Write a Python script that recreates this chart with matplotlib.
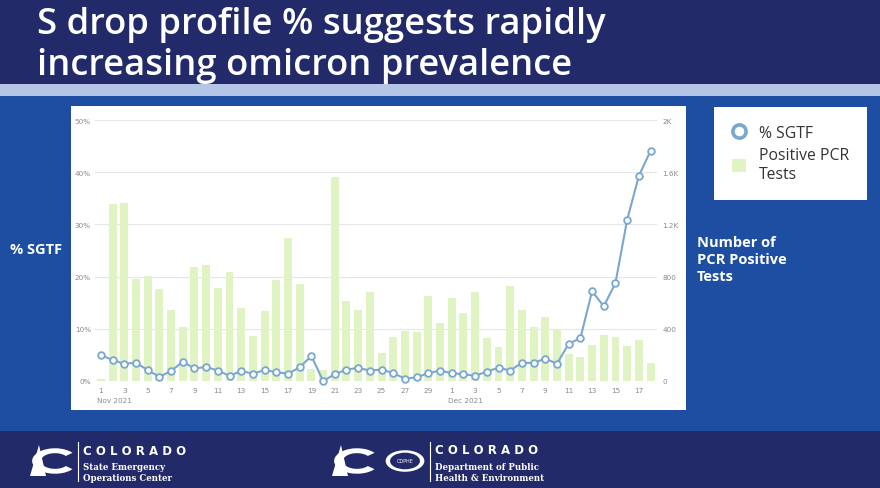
import matplotlib
matplotlib.use("Agg")
import matplotlib.pyplot as plt
from matplotlib.patches import Rectangle, Wedge, Circle, Polygon
from matplotlib.lines import Line2D

# ---------------- data ----------------
day_numbers = list(range(1, 31)) + list(range(1, 19))
month_labels = ["Nov 2021", "Dec 2021"]

positive_pcr_tests = [15, 1360, 1367, 779, 805, 708, 541, 416, 876, 889,
                      713, 835, 559, 347, 536, 774, 1096, 746, 95, 84,
                      1563, 613, 544, 685, 217, 340, 381, 375, 651, 442,
                      634, 519, 682, 327, 261, 728, 544, 416, 493, 391,
                      204, 186, 278, 350, 335, 266, 312, 140]

pct_sgtf = [5.0, 4.0, 3.3, 3.5, 2.1, 0.8, 1.9, 3.7, 2.4, 2.7,
            2.0, 1.0, 1.9, 1.4, 2.1, 1.7, 1.4, 2.6, 4.8, 0.0,
            1.3, 2.2, 2.5, 2.0, 2.2, 1.5, 0.45, 0.7, 1.5, 2.0,
            1.5, 1.3, 1.0, 1.8, 2.55, 2.0, 3.5, 3.45, 4.3, 3.3,
            7.15, 8.2, 17.2, 14.3, 18.8, 30.9, 39.3, 44.1]

pct_ticks = [0, 10, 20, 30, 40, 50]
pct_tick_labels = ["0%", "10%", "20%", "30%", "40%", "50%"]
count_ticks = [0, 400, 800, 1200, 1600, 2000]
count_tick_labels = ["0", "400", "800", "1.2K", "1.6K", "2K"]

title_lines = ["S drop profile % suggests rapidly", "increasing omicron prevalence"]

# ---------------- helpers ----------------
W, H = 880, 489
def fx(x): return x / W
def fy(y): return 1 - y / H

NAVY = "#222a69"
BAND = "#b4c5e6"
MID = "#1d4ea2"
BAR = "#e0f3c2"
LINE = "#7aa7d0"
GRID = "#e6e6e6"
TICK = "#8a8a8a"

fig = plt.figure(figsize=(8.8, 4.89), dpi=100)
fig.patch.set_facecolor(MID)

def rect(x0, y0, x1, y1, color, z=0):
    fig.patches.append(Rectangle((fx(x0), fy(y1)), fx(x1) - fx(x0), fy(y0) - fy(y1),
                                 transform=fig.transFigure, facecolor=color,
                                 edgecolor="none", zorder=z))

rect(0, 0, 880, 85, NAVY)
rect(0, 85, 880, 97, BAND)
rect(0, 97, 880, 432, MID)
rect(0, 432, 880, 489, NAVY)
rect(71, 107, 686, 411, "white", z=1)

# title
for i, t in enumerate(title_lines):
    fig.text(fx(37), fy(25 + 41 * i), t, color="white", fontsize=26.2,
             family="Open Sans", fontweight="semibold", va="center", ha="left")

# ---------------- chart ----------------
n = len(day_numbers)
xs = list(range(n))
ax = fig.add_axes([fx(95), fy(382), fx(657) - fx(95), fy(121) - fy(382)])
ax.set_zorder(2)
ax.patch.set_visible(False)
bars = ax.bar(xs, positive_pcr_tests, width=0.68, color=BAR, zorder=2)
ax.set_ylim(0, 2000)
ax.set_xlim(-0.5, n - 0.45)
for y in count_ticks:
    ax.axhline(y, color=GRID, lw=0.8, zorder=1)

ax2 = ax.twinx()
ax2.set_zorder(3)
ax2.patch.set_visible(False)
line, = ax2.plot(xs, pct_sgtf, color=LINE, lw=1.5, marker="o", ms=4.8,
                 mfc="white", mec=LINE, mew=1.3, zorder=4, clip_on=False)
ax2.set_ylim(0, 50)

# tick sides (set after twinx, which resets them)
ax.yaxis.tick_right()
ax.set_yticks(count_ticks)
ax.set_yticklabels(count_tick_labels)
ax2.yaxis.tick_left()
ax2.set_yticks(pct_ticks)
ax2.set_yticklabels(pct_tick_labels)

tick_pos = [i for i in xs if day_numbers[i] % 2 == 1]
ax.set_xticks(tick_pos)
ax.set_xticklabels([str(day_numbers[i]) for i in tick_pos])

for a in (ax, ax2):
    for s in a.spines.values():
        s.set_visible(False)
    a.tick_params(length=0, labelsize=5.2, colors=TICK, pad=3)
ax.tick_params(axis="x", pad=4)
ax.tick_params(axis="y", pad=4)
ax2.tick_params(axis="y", pad=3)

month_idx = [0, 30]
for mi, ml in zip(month_idx, month_labels):
    ax.annotate(ml, xy=(mi, 0), xycoords=("data", "axes fraction"),
                xytext=(-2.5, -11.5), textcoords="offset points",
                fontsize=5.2, color=TICK, ha="left", va="top")

# side labels
fig.text(fx(10), fy(250), "% SGTF", color="white", fontsize=10.5,
         family="Open Sans", fontweight="bold", va="center")
fig.text(fx(697), fy(260), "Number of\nPCR Positive\nTests", color="white",
         fontsize=10.5, family="Open Sans", fontweight="bold", va="center",
         linespacing=1.25)

# legend
h1 = Line2D([], [], ls="none", marker="o", ms=9.5, mfc="white", mec=LINE, mew=2.6)
h2 = Rectangle((0, 0), 1, 1, facecolor=BAR, edgecolor="none")
leg = fig.legend([h1, h2], ["% SGTF", "Positive PCR\nTests"],
                 loc="upper left", bbox_to_anchor=(fx(714), fy(108)),
                 bbox_transform=fig.transFigure, frameon=True, fancybox=False,
                 facecolor="white", edgecolor="none", framealpha=1,
                 prop={"family": "Open Sans", "size": 11.3},
                 handlelength=0.9, handleheight=0.9, handletextpad=0.8,
                 borderpad=1.15, labelspacing=0.4, borderaxespad=0)
leg.get_frame().set_linewidth(0)
for t in leg.get_texts():
    t.set_color("#333333")

# footer logos (simplified)
def logo(cx, cy):
    fig.patches.append(Wedge((fx(cx), fy(cy)), 0.026, 40, 320, width=0.010,
                             transform=fig.transFigure, facecolor="white",
                             edgecolor="none", zorder=2))
    fig.patches.append(Polygon([(fx(cx - 25), fy(cy + 15)), (fx(cx - 16), fy(cy - 16)),
                                (fx(cx - 9), fy(cy + 15))], closed=True,
                               transform=fig.transFigure, facecolor="white",
                               edgecolor="none", zorder=2))

def divider(x):
    fig.lines.append(Line2D([fx(x), fx(x)], [fy(443), fy(482)],
                            transform=fig.transFigure, color="white", lw=0.8))

logo(55, 462)
divider(78)
fig.text(fx(83), fy(452), "C O L O R A D O", color="white", fontsize=8.5,
         fontweight="bold", family="DejaVu Sans", va="center")
fig.text(fx(83), fy(468), "State Emergency", color="white", fontsize=6.2,
         family="DejaVu Serif", fontweight="bold", va="center")
fig.text(fx(83), fy(479), "Operations Center", color="white", fontsize=6.2,
         family="DejaVu Serif", fontweight="bold", va="center")

logo(357, 462)
fig.patches.append(Circle((fx(405), fy(462)), 0.022, transform=fig.transFigure,
                          facecolor="white", edgecolor="none", zorder=2))
fig.patches.append(Circle((fx(405), fy(462)), 0.017, transform=fig.transFigure,
                          facecolor=NAVY, edgecolor="none", zorder=3))
fig.text(fx(405), fy(462), "CDPHE", color="white", fontsize=3.5,
         ha="center", va="center", zorder=4)
divider(430)
fig.text(fx(435), fy(451), "C O L O R A D O", color="white", fontsize=8.5,
         fontweight="bold", family="DejaVu Sans", va="center")
fig.text(fx(435), fy(468), "Department of Public", color="white", fontsize=6.2,
         family="DejaVu Serif", fontweight="bold", va="center")
fig.text(fx(435), fy(479), "Health & Environment", color="white", fontsize=6.2,
         family="DejaVu Serif", fontweight="bold", va="center")

fig.savefig("out.png", dpi=100, facecolor=fig.get_facecolor())
